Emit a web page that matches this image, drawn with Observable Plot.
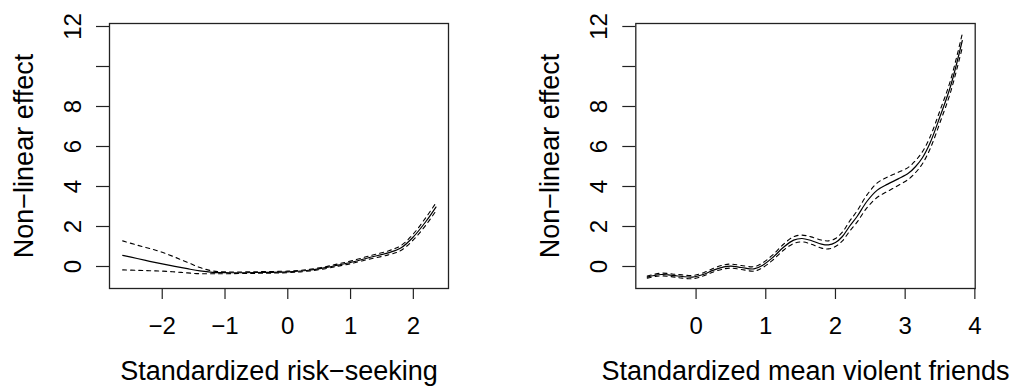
<!DOCTYPE html>
<html><head><meta charset="utf-8">
<script src="https://cdn.jsdelivr.net/npm/d3@7"></script>
<script src="https://cdn.jsdelivr.net/npm/@observablehq/plot@0.6"></script>
<style>
html,body{margin:0;padding:0;background:#fff;}
#wrap{width:1014px;height:386px;display:flex;}
#wrap svg{flex:none;}
</style></head><body><div id="wrap"></div>
<script>
// y axis (shared)
const yTicks = [0, 2, 4, 6, 8, 10, 12];
const yTickLabels = ["0", "2", "4", "6", "8", "", "12"];
const yTitle = "Non\u2212linear effect";

// Left panel: standardized risk-seeking
const riskTitle = "Standardized risk\u2212seeking";
const riskTicks = [-2, -1, 0, 1, 2];
const riskTickLabels = ["\u22122", "\u22121", "0", "1", "2"];
const riskX     = [-2.63, -2.4, -2.2, -2.0, -1.8, -1.6, -1.4, -1.2, -1.0, -0.5, 0, 0.3, 0.6, 0.8, 1.0, 1.3, 1.6, 1.8, 2.0, 2.2, 2.36];
const riskFit   = [0.56, 0.40, 0.26, 0.13, 0.01, -0.11, -0.22, -0.29, -0.31, -0.30, -0.27, -0.20, -0.06, 0.07, 0.20, 0.45, 0.68, 0.92, 1.48, 2.25, 2.97];
const riskUpper = [1.28, 1.07, 0.90, 0.71, 0.47, 0.21, -0.05, -0.22, -0.27, -0.26, -0.23, -0.16, -0.01, 0.13, 0.27, 0.53, 0.78, 1.04, 1.63, 2.45, 3.18];
const riskLower = [-0.17, -0.19, -0.21, -0.23, -0.27, -0.32, -0.36, -0.36, -0.36, -0.34, -0.31, -0.24, -0.11, 0.02, 0.14, 0.37, 0.58, 0.80, 1.33, 2.07, 2.78];

// Right panel: standardized mean violent friends
const friendsTitle = "Standardized mean violent friends";
const friendsTicks = [0, 1, 2, 3, 4];
const friendsTickLabels = ["0", "1", "2", "3", "4"];
const friendsX     = [-0.70, -0.60, -0.50, -0.40, -0.30, -0.20, -0.05, 0.10, 0.25, 0.40, 0.50, 0.65, 0.83, 0.95, 1.10, 1.25, 1.40, 1.52, 1.65, 1.80, 1.90, 2.00, 2.10, 2.20, 2.31, 2.45, 2.60, 2.75, 2.90, 3.05, 3.15, 3.25, 3.36, 3.50, 3.65, 3.82];
const friendsFit   = [-0.53, -0.45, -0.40, -0.42, -0.46, -0.50, -0.53, -0.40, -0.18, -0.02, 0.02, -0.05, -0.12, 0.05, 0.45, 0.95, 1.32, 1.40, 1.30, 1.12, 1.08, 1.20, 1.50, 2.00, 2.50, 3.25, 3.82, 4.12, 4.38, 4.67, 5.00, 5.45, 6.20, 7.50, 9.00, 11.30];
const friendsUpper = [-0.48, -0.39, -0.33, -0.35, -0.39, -0.42, -0.45, -0.32, -0.09, 0.08, 0.12, 0.05, -0.01, 0.17, 0.58, 1.10, 1.49, 1.57, 1.48, 1.32, 1.28, 1.40, 1.72, 2.25, 2.78, 3.57, 4.18, 4.48, 4.71, 4.97, 5.30, 5.75, 6.50, 7.80, 9.30, 11.65];
const friendsLower = [-0.58, -0.51, -0.47, -0.49, -0.53, -0.58, -0.61, -0.48, -0.27, -0.12, -0.08, -0.15, -0.23, -0.07, 0.32, 0.80, 1.15, 1.23, 1.12, 0.92, 0.88, 1.00, 1.28, 1.75, 2.22, 2.93, 3.46, 3.76, 4.05, 4.37, 4.70, 5.15, 5.90, 7.20, 8.70, 10.95];

const FONT = "'Liberation Sans', Arial, Helvetica, sans-serif";
const TICK_FS = 24;
const TITLE_FS = 27;

function panel({xs, fit, lower, upper, xDomain, xTicks, xTickLabels, xTitle, marginLeft, marginRight}) {
  const rows = xs.map((x, i) => ({x, fit: fit[i], lower: lower[i], upper: upper[i]}));
  return Plot.plot({
    width: 507,
    height: 386,
    marginLeft, marginRight,
    marginTop: 23,
    marginBottom: 98,
    style: {fontFamily: FONT, background: "white", color: "black", overflow: "visible"},
    x: {domain: xDomain, label: null},
    y: {domain: [-1.1, 12.15], label: null},
    marks: [
      Plot.axisY({ticks: yTicks, tickSize: 13, tickFormat: () => "", label: null, stroke: "#222", strokeWidth: 1.2}),
      Plot.text(yTicks, {y: d => d, text: (d, i) => yTickLabels[i], frameAnchor: "left", dx: -29, rotate: -90,
        textAnchor: "middle", lineAnchor: "bottom", fontSize: TICK_FS, fill: "black", ariaLabel: "ytick-label"}),
      Plot.text([yTitle], {text: d => d, frameAnchor: "left", dx: -77, rotate: -90,
        textAnchor: "middle", lineAnchor: "bottom", fontSize: TITLE_FS, fill: "black"}),
      Plot.axisX({ticks: xTicks, tickSize: 11, tickFormat: () => "", label: null, stroke: "#222", strokeWidth: 1.2}),
      Plot.text(xTicks, {x: d => d, text: (d, i) => xTickLabels[i], frameAnchor: "bottom", dy: 45.5,
        lineAnchor: "bottom", fontSize: TICK_FS, fill: "black", ariaLabel: "xtick-label"}),
      Plot.text([xTitle], {text: d => d, frameAnchor: "bottom", dy: 91, lineAnchor: "bottom", fontSize: TITLE_FS, fill: "black"}),
      Plot.frame({stroke: "#222", strokeWidth: 1.3}),
      Plot.line(rows, {x: "x", y: "upper", curve: "catmull-rom", stroke: "black", strokeWidth: 1.1, strokeDasharray: "4,4"}),
      Plot.line(rows, {x: "x", y: "lower", curve: "catmull-rom", stroke: "black", strokeWidth: 1.1, strokeDasharray: "4,4"}),
      Plot.line(rows, {x: "x", y: "fit", curve: "catmull-rom", stroke: "black", strokeWidth: 1.2})
    ]
  });
}

const wrap = document.getElementById("wrap");
wrap.append(panel({xs: riskX, fit: riskFit, lower: riskLower, upper: riskUpper,
  xDomain: [-2.84, 2.56], xTicks: riskTicks, xTickLabels: riskTickLabels, xTitle: riskTitle, marginLeft: 109, marginRight: 59}));
wrap.append(panel({xs: friendsX, fit: friendsFit, lower: friendsLower, upper: friendsUpper,
  xDomain: [-0.865, 4.005], xTicks: friendsTicks, xTickLabels: friendsTickLabels, xTitle: friendsTitle, marginLeft: 128.3, marginRight: 39.3}));

// the reference's x tick labels are drawn slightly wider than the font's natural width
wrap.querySelectorAll('g[aria-label="xtick-label"] text').forEach(t => {
  const L = t.getComputedTextLength();
  if (L > 0) { t.setAttribute("textLength", L * 1.1); t.setAttribute("lengthAdjust", "spacingAndGlyphs"); }
});
</script></body></html>
